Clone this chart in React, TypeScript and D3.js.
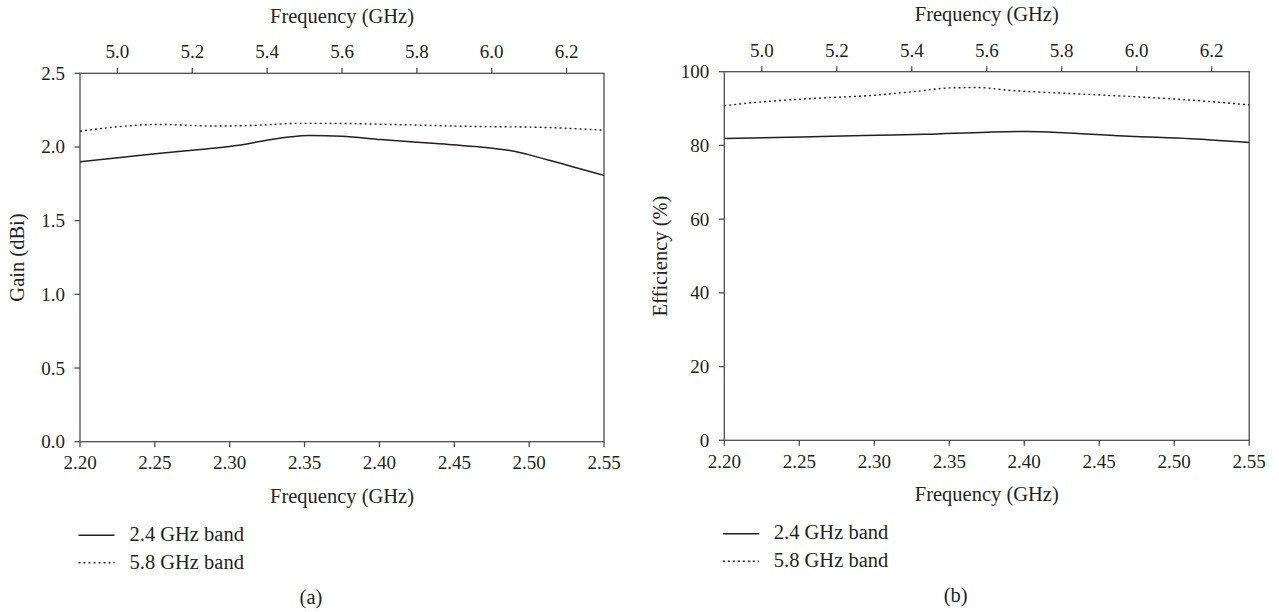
import React from "react";
import * as d3 from "d3";

const bottomTicks = [2.2, 2.25, 2.3, 2.35, 2.4, 2.45, 2.5, 2.55];
const topTicks = [5.0, 5.2, 5.4, 5.6, 5.8, 6.0, 6.2];
const gainTicks = [0, 0.5, 1.0, 1.5, 2.0, 2.5];
const effTicks = [0, 20, 40, 60, 80, 100];

// Gain (dBi), 2.4 GHz band vs bottom axis
const gain24Freq = [2.2, 2.252, 2.284, 2.306, 2.321, 2.353, 2.375, 2.401, 2.438, 2.464, 2.49, 2.512, 2.55];
const gain24Val = [1.9, 1.955, 1.987, 2.011, 2.039, 2.078, 2.073, 2.05, 2.023, 2.003, 1.971, 1.914, 1.807];
// Gain (dBi), 5.8 GHz band vs top axis
const gain58Freq = [4.9, 5.0, 5.11, 5.26, 5.36, 5.48, 5.58, 5.73, 5.94, 6.15, 6.3];
const gain58Val = [2.107, 2.137, 2.153, 2.142, 2.146, 2.16, 2.16, 2.153, 2.14, 2.132, 2.114];

// Efficiency (%), 2.4 GHz band vs bottom axis
const eff24Freq = [2.2, 2.252, 2.293, 2.334, 2.375, 2.402, 2.429, 2.47, 2.511, 2.55];
const eff24Val = [81.9, 82.3, 82.7, 83.0, 83.6, 83.8, 83.4, 82.5, 81.8, 80.8];
// Efficiency (%), 5.8 GHz band vs top axis
const eff58Freq = [4.9, 5.0, 5.164, 5.284, 5.415, 5.501, 5.578, 5.654, 5.817, 5.98, 6.143, 6.3];
const eff58Val = [90.8, 91.8, 92.9, 93.5, 94.7, 95.6, 95.7, 95.0, 94.1, 93.3, 92.3, 91.0];

const INK = "#231f20";
const AXIS = "#4d4d4f";
const FONT = "'Liberation Serif', 'Times New Roman', serif";
const TICK_FS = 19;
const LABEL_FS = 20.5;
const DOTS = "2,3";

type PanelProps = {
  x0: number; x1: number; y0: number; y1: number;
  yDomain: [number, number]; yTicks: number[]; yFmt: (v: number) => string;
  yLabel: string; yLabelX: number;
  s24: [number[], number[]]; s58: [number[], number[]];
  tag: string;
};

function Panel(p: PanelProps) {
  const xb = d3.scaleLinear().domain([2.2, 2.55]).range([p.x0, p.x1]);
  const xt = d3.scaleLinear().domain([4.9, 6.3]).range([p.x0, p.x1]);
  const y = d3.scaleLinear().domain(p.yDomain).range([p.y1, p.y0]);
  const l24 = d3.line<number>().x((_, i) => xb(p.s24[0][i])).y((v) => y(v)).curve(d3.curveMonotoneX);
  const l58 = d3.line<number>().x((_, i) => xt(p.s58[0][i])).y((v) => y(v)).curve(d3.curveMonotoneX);
  const midX = (p.x0 + p.x1) / 2;
  const midY = (p.y0 + p.y1) / 2;
  const tick = 5.5;
  const legX = p.x0 - 1.5;
  return (
    <g style={{ fontFamily: FONT }} fill={INK}>
      <rect x={p.x0} y={p.y0} width={p.x1 - p.x0} height={p.y1 - p.y0} fill="none" stroke={AXIS} strokeWidth={1.3} />
      <g style={{ fontSize: TICK_FS }}>
        {bottomTicks.map((t) => (
          <g key={"b" + t}>
            <line x1={xb(t)} x2={xb(t)} y1={p.y1} y2={p.y1 + tick} stroke={AXIS} strokeWidth={1.3} />
            <text x={xb(t)} y={p.y1 + 27.5} textAnchor="middle">{t.toFixed(2)}</text>
          </g>
        ))}
        {topTicks.map((t) => (
          <g key={"t" + t}>
            <line x1={xt(t)} x2={xt(t)} y1={p.y0} y2={p.y0 - tick} stroke={AXIS} strokeWidth={1.3} />
            <text x={xt(t)} y={p.y0 - 15} textAnchor="middle">{t.toFixed(1)}</text>
          </g>
        ))}
        {p.yTicks.map((t) => (
          <g key={"y" + t}>
            <line x1={p.x0} x2={p.x0 - tick} y1={y(t)} y2={y(t)} stroke={AXIS} strokeWidth={1.3} />
            <text x={p.x0 - 15} y={y(t) + 6.5} textAnchor="end">{p.yFmt(t)}</text>
          </g>
        ))}
      </g>
      <g style={{ fontSize: LABEL_FS }}>
        <text x={midX} y={p.y0 - 50.5} textAnchor="middle">Frequency (GHz)</text>
        <text x={midX} y={p.y1 + 61} textAnchor="middle">Frequency (GHz)</text>
        <text transform={`translate(${p.yLabelX},${midY}) rotate(-90)`} textAnchor="middle">{p.yLabel}</text>
        <text x={legX + 51} y={p.y1 + 99}>2.4 GHz band</text>
        <text x={legX + 51} y={p.y1 + 127}>5.8 GHz band</text>
        <text x={midX - 31} y={p.y1 + 162} textAnchor="middle">{p.tag}</text>
      </g>
      <path d={l24(p.s24[1]) || ""} fill="none" stroke={INK} strokeWidth={1.5} />
      <path d={l58(p.s58[1]) || ""} fill="none" stroke={INK} strokeWidth={1.4} strokeDasharray={DOTS} />
      <line x1={legX} x2={legX + 36} y1={p.y1 + 93.5} y2={p.y1 + 93.5} stroke={INK} strokeWidth={1.5} />
      <line x1={legX} x2={legX + 36} y1={p.y1 + 121} y2={p.y1 + 121} stroke={INK} strokeWidth={1.4} strokeDasharray={DOTS} />
    </g>
  );
}

export default function App() {
  return (
    <svg width={1279} height={612} style={{ position: "absolute", left: 0, top: 0, background: "#fff" }}>
      <Panel x0={80} x1={604} y0={73.3} y1={441.7} yDomain={[0, 2.5]} yTicks={gainTicks}
        yFmt={(v) => v.toFixed(1)} yLabel="Gain (dBi)" yLabelX={24}
        s24={[gain24Freq, gain24Val]} s58={[gain58Freq, gain58Val]} tag="(a)" />
      <Panel x0={724.3} x1={1249.2} y0={71.7} y1={440.3} yDomain={[0, 100]} yTicks={effTicks}
        yFmt={(v) => String(v)} yLabel="Efficiency (%)" yLabelX={667}
        s24={[eff24Freq, eff24Val]} s58={[eff58Freq, eff58Val]} tag="(b)" />
    </svg>
  );
}
